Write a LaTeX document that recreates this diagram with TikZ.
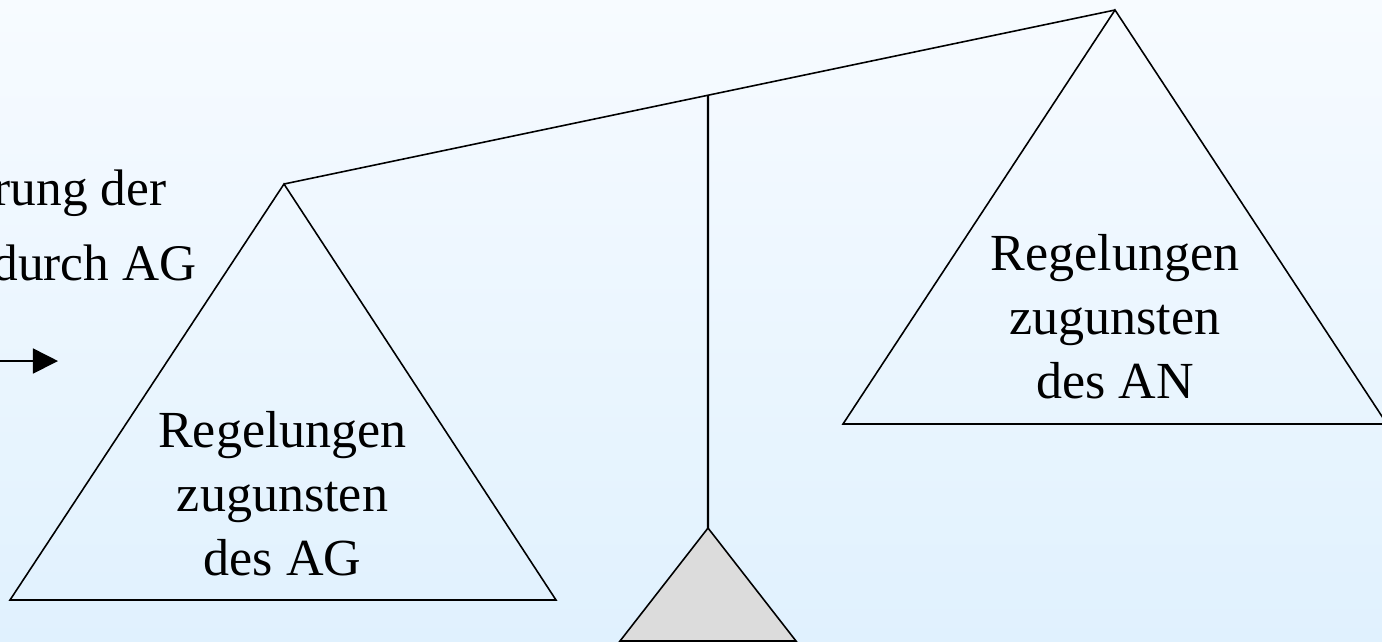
\documentclass[tikz,border=0pt]{standalone}
\usepackage{fontspec}
\setmainfont{Liberation Serif}
\usetikzlibrary{arrows.meta,calc}
\definecolor{bgtop}{HTML}{F7FBFF}
\definecolor{bgbot}{HTML}{E0F1FE}
\definecolor{fulcrumfill}{HTML}{DCDCDC}
\tikzset{
  pan/.style={draw=black,line width=0.45pt,line join=miter},
  beam/.style={draw=black,line width=0.45pt},
  post/.style={draw=black,line width=0.6pt},
  pantext/.style={align=center,inner sep=0pt,font=\fontsize{14.8pt}{18.2pt}\selectfont},
  sidetext/.style={inner sep=0pt,font=\fontsize{14.6pt}{18pt}\selectfont},
  arr/.style={draw=black,line width=0.45pt,-{Triangle[length=0.25cm,width=0.25cm]}}
}
\begin{document}
\begin{tikzpicture}[x=0.01cm,y=-0.01cm]
\useasboundingbox (0,0) rectangle (1382,641);
\clip (0,0) rectangle (1382,641);
\shade[top color=bgtop,bottom color=bgbot] (0,0) rectangle (1382,641);
% key points
\coordinate (L) at (284,184);
\coordinate (R) at (1115,10);
\coordinate (P) at ($(L)!0.5102!(R)$);
\coordinate (F) at (708,528);
\coordinate (LB1) at (10,600);
\coordinate (LB2) at (556,600);
\coordinate (RB1) at (843,424);
\coordinate (RB2) at (1387,424);
\coordinate (FB1) at (620,641);
\coordinate (FB2) at (796,641);
% fulcrum
\filldraw[pan,fill=fulcrumfill] (F) -- (FB1) -- (FB2) -- cycle;
% post and beam
\draw[post] (P) -- (F);
\draw[beam] (L) -- (R);
% pans
\draw[pan] (L) -- (LB1) -- (LB2) -- cycle;
\draw[pan] (R) -- (RB1) -- (RB2) -- cycle;
% texts (anchor = baseline of last line)
\node[pantext,anchor=base] (lt) at (282.5,575) {Regelungen\\zugunsten\\des AG};
\node[pantext,anchor=base] (rt) at (1115,398) {Regelungen\\zugunsten\\des AN};
\node[sidetext,anchor=base east] (st1) at (167,205) {rung der};
\node[sidetext,anchor=base east] (st2) at (197,280) {durch AG};
% arrow
\coordinate (a0) at (-5,361);
\coordinate (a1) at (58,361);
\draw[arr] (a0) -- (a1);
\end{tikzpicture}
\end{document}
